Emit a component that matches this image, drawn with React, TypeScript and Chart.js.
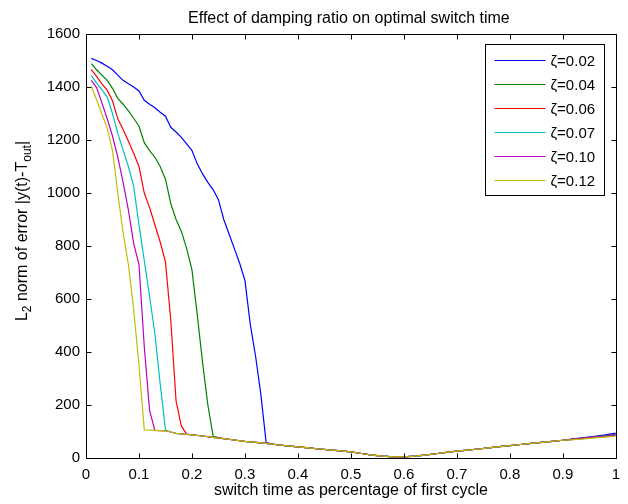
import React, { useEffect, useRef } from "react";
import { Chart, registerables } from "chart.js";

Chart.register(...registerables);

const chartTitle = "Effect of damping ratio on optimal switch time";
const xAxisTitle = "switch time as percentage of first cycle";
const seriesLabels = ["ζ=0.02", "ζ=0.04", "ζ=0.06", "ζ=0.07", "ζ=0.10", "ζ=0.12"];
const seriesColors = ["#0000ff", "#008000", "#ff0000", "#00bfbf", "#bf00bf", "#bfbf00"];

// Steep initial part of each curve
const headX02 = [0.01,0.02,0.03,0.04,0.05,0.06,0.07,0.08,0.09,0.1,0.11,0.12,0.13,0.14,0.15,0.16,0.17,0.18,0.19,0.2,0.21,0.22,0.23,0.24,0.25,0.26,0.27,0.28,0.29,0.3,0.31,0.32,0.33,0.34];
const headY02 = [1508,1500,1490,1478,1465,1445,1425,1412,1400,1385,1350,1335,1322,1305,1290,1248,1230,1210,1185,1160,1110,1072,1040,1012,975,900,845,790,735,670,505,385,240,58];
const headX04 = [0.01,0.02,0.03,0.04,0.05,0.06,0.07,0.08,0.09,0.1,0.11,0.12,0.13,0.14,0.15,0.16,0.17,0.18,0.19,0.2,0.21,0.22,0.23,0.24];
const headY04 = [1488,1465,1445,1425,1395,1357,1335,1310,1282,1252,1190,1160,1135,1100,1052,960,900,855,790,710,540,360,200,82];
const headX06 = [0.01,0.02,0.03,0.04,0.05,0.06,0.07,0.08,0.09,0.1,0.11,0.12,0.13,0.14,0.15,0.16,0.17,0.18,0.19];
const headY06 = [1466,1440,1412,1388,1348,1280,1240,1195,1150,1100,1000,945,880,815,740,520,215,120,90];
const headX07 = [0.01,0.02,0.03,0.04,0.05,0.06,0.07,0.08,0.09,0.1,0.11,0.12,0.13,0.14,0.15];
const headY07 = [1444,1415,1390,1362,1300,1225,1162,1100,1025,880,745,610,470,280,106];
const headX10 = [0.01,0.02,0.03,0.04,0.05,0.06,0.07,0.08,0.09,0.1,0.11,0.12,0.13];
const headY10 = [1425,1398,1340,1280,1215,1135,1040,935,810,730,420,180,104];
const headX12 = [0.01,0.02,0.03,0.04,0.05,0.06,0.07,0.08,0.09,0.1,0.11];
const headY12 = [1403,1352,1298,1245,1160,1000,850,730,560,350,106];

// Common low tail shared by all curves
const tailX = [0.12,0.13,0.15,0.16,0.17,0.18,0.19,0.2,0.22,0.24,0.26,0.28,0.3,0.32,0.34,0.36,0.38,0.4,0.42,0.44,0.46,0.48,0.5,0.52,0.54,0.56,0.58,0.6,0.62,0.64,0.66,0.68,0.7,0.72,0.74,0.76,0.78,0.8,0.82,0.84,0.86,0.88,0.9];
const tailY = [105,104,102,98,93,91,89,87,83,78,73,68,63,59,55,50,46,42,38,34,31,27,23,17,11,7,4,4,7,11,16,21,26,30,34,38,43,47,51,55,59,63,67];

// Slightly diverging ends
const endX = [0.92,0.94,0.96,0.98,1.0];
const endY02 = [72,77,82,87,94];
const endY04 = [71,75,80,85,90];
const endY06 = [70,74,78,82,86];
const endY07 = [70,74,78,83,87];
const endY10 = [71,75,79,83,88];
const endY12 = [69,72,76,79,82];

const heads = [
  [headX02, headY02, endY02],
  [headX04, headY04, endY04],
  [headX06, headY06, endY06],
  [headX07, headY07, endY07],
  [headX10, headY10, endY10],
  [headX12, headY12, endY12],
];

const xTicksMin = 0, xTicksMax = 1, xStep = 0.1;
const yTicksMin = 0, yTicksMax = 1600, yStep = 200;

function buildSeries(hx: number[], hy: number[], ey: number[]) {
  const pts: { x: number; y: number }[] = [];
  hx.forEach((x, i) => pts.push({ x, y: hy[i] }));
  const last = hx[hx.length - 1];
  tailX.forEach((x, i) => {
    if (x > last + 0.001) pts.push({ x, y: tailY[i] });
  });
  endX.forEach((x, i) => pts.push({ x, y: ey[i] }));
  return pts;
}

const FONT = "'Liberation Sans', Arial, Helvetica, sans-serif";

const framePlugin = {
  id: "framePlugin",
  afterDraw(chart: any) {
    const { ctx, chartArea: a, scales } = chart;
    const L = Math.round(a.left) + 0.5;
    const R = Math.round(a.right) + 0.5;
    const T = Math.round(a.top) + 0.5;
    const B = Math.round(a.bottom) + 0.5;
    ctx.save();
    ctx.strokeStyle = "#000";
    ctx.lineWidth = 1;
    ctx.beginPath();
    ctx.rect(L, T, R - L, B - T);
    ctx.stroke();
    const tl = 5;
    ctx.beginPath();
    scales.x.ticks.forEach((t: any) => {
      const px = Math.round(scales.x.getPixelForValue(t.value)) + 0.5;
      ctx.moveTo(px, B); ctx.lineTo(px, B - tl);
      ctx.moveTo(px, T); ctx.lineTo(px, T + tl);
    });
    scales.y.ticks.forEach((t: any) => {
      const py = Math.round(scales.y.getPixelForValue(t.value)) + 0.5;
      ctx.moveTo(L, py); ctx.lineTo(L + tl, py);
      ctx.moveTo(R, py); ctx.lineTo(R - tl, py);
    });
    ctx.stroke();

    // Legend box
    const bw = 119, bh = 151;
    const bx = Math.round(a.right) - 12 - bw + 0.5;
    const by = Math.round(a.top) + 10 + 0.5;
    ctx.fillStyle = "#fff";
    ctx.fillRect(bx, by, bw, bh);
    ctx.strokeStyle = "#000";
    ctx.strokeRect(bx, by, bw, bh);
    ctx.font = `15px ${FONT}`;
    ctx.textBaseline = "middle";
    ctx.textAlign = "left";
    chart.data.datasets.forEach((ds: any, i: number) => {
      const y = Math.round(by + 15 + i * 24) + 0.5;
      ctx.strokeStyle = ds.borderColor;
      ctx.beginPath();
      ctx.moveTo(bx + 9, y);
      ctx.lineTo(bx + 60, y);
      ctx.stroke();
      ctx.fillStyle = "#000";
      ctx.fillText(ds.label, bx + 65, y + 1);
    });

    // Title
    const cx = (a.left + a.right) / 2;
    ctx.fillStyle = "#000";
    ctx.textAlign = "center";
    ctx.textBaseline = "alphabetic";
    ctx.font = `16px ${FONT}`;
    ctx.fillText(chartTitle, cx - 2, 23);

    // X axis title
    ctx.font = `16px ${FONT}`;
    ctx.fillText(xAxisTitle, cx, 495);

    // Y axis title with subscripts
    const parts: [string, boolean][] = [["L", false], ["2", true], [" norm of error |y(t)-T", false], ["out", true], ["|", false]];
    const mainF = `16px ${FONT}`;
    const subF = `12px ${FONT}`;
    let total = 0;
    parts.forEach(([s, sub]) => { ctx.font = sub ? subF : mainF; total += ctx.measureText(s).width; });
    ctx.save();
    ctx.translate(27, 231);
    ctx.rotate(-Math.PI / 2);
    ctx.textAlign = "left";
    let xx = -total / 2;
    parts.forEach(([s, sub]) => {
      ctx.font = sub ? subF : mainF;
      ctx.fillText(s, xx, sub ? 4 : 0);
      xx += ctx.measureText(s).width;
    });
    ctx.restore();
    ctx.restore();
  },
};

export default function App() {
  const ref = useRef<HTMLCanvasElement | null>(null);
  useEffect(() => {
    document.body.style.margin = "0";
    if (!ref.current) return;
    const datasets = heads.map((h, i) => ({
      label: seriesLabels[i],
      data: buildSeries(h[0], h[1], h[2]),
      borderColor: seriesColors[i],
      backgroundColor: seriesColors[i],
      borderWidth: 1.2,
      pointRadius: 0,
      fill: false,
      tension: 0,
      order: seriesLabels.length - i,
    }));
    const chart = new Chart(ref.current, {
      type: "line",
      data: { datasets },
      options: {
        animation: false,
        responsive: false,
        devicePixelRatio: 1,
        layout: { padding: { top: 34, right: 7, left: 0, bottom: 0 } },
        plugins: { legend: { display: false }, title: { display: false }, tooltip: { enabled: false } },
        scales: {
          x: {
            type: "linear",
            min: xTicksMin,
            max: xTicksMax,
            grid: { display: false, drawTicks: false },
            border: { display: false },
            ticks: {
              stepSize: xStep,
              padding: 8,
              color: "#000",
              font: { size: 15, family: FONT },
              maxRotation: 0,
              callback: (v: any) => String(Math.round(Number(v) * 10) / 10),
            },
            afterFit: (s: any) => { s.height = 46; },
          },
          y: {
            type: "linear",
            min: yTicksMin,
            max: yTicksMax,
            grid: { display: false, drawTicks: false },
            border: { display: false },
            ticks: {
              stepSize: yStep,
              padding: 6,
              color: "#000",
              font: { size: 15, family: FONT },
              callback: (v: any) => String(Math.round(Number(v))),
            },
            afterFit: (s: any) => { s.width = 86; },
          },
        },
      },
      plugins: [framePlugin],
    });
    return () => chart.destroy();
  }, []);
  return <canvas ref={ref} width={628} height={504} style={{ display: "block" }} />;
}
